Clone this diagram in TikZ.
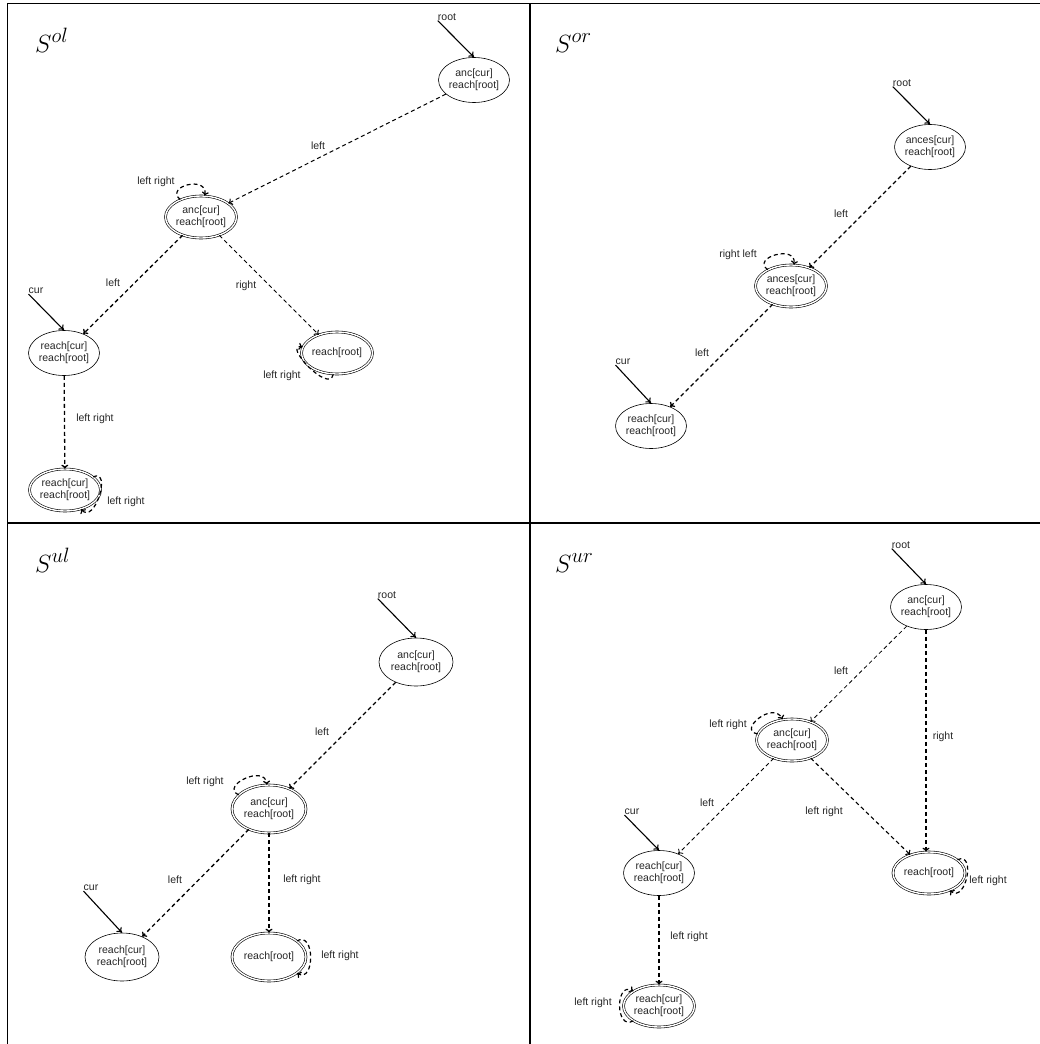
\documentclass[tikz,border=0pt]{standalone}
\usepackage{fontspec}
\setmainfont{Liberation Sans}
\usetikzlibrary{arrows.meta,shapes.geometric}
\newcommand\labfont{\fontsize{10.5}{11.5}\selectfont}
\newcommand\titlefont{\fontsize{28}{30}\selectfont}
\tikzset{
  st/.style={ellipse, draw, line width=0.6, minimum width=70, minimum height=45,
    inner sep=0, align=center, font=\labfont, text=black!85},
  acc/.style={st, double, double distance=1.4, minimum width=67, minimum height=42},
  big/.style={minimum width=74, minimum height=48},
  lbl/.style={font=\labfont, text=black!85, inner sep=0},
  ttl/.style={font=\titlefont, anchor=base west, inner sep=0},
  tr/.style={dash pattern=on 4 off 3, line width=1.3, -{To[length=4,width=7]}},
  thintr/.style={tr, line width=0.8},
  selfloop/.style={tr, line width=1.2},
  init/.style={line width=1.1, -{To[length=5,width=7]}},
  frame/.style={line width=1.3}
}
% self loop on node #1 leaving at angle #2 and returning at angle #3
\newcommand\selfedge[3]{%
  \draw[selfloop] (#1.#2) .. controls +(#2:21) and +(#3:21) .. (#1.#3);}
\begin{document}
\begin{tikzpicture}[x=1pt,y=1pt]
\useasboundingbox (0,0) rectangle (1040,-1044);
% frame and dividers
\draw[frame] (1040,-3.5) -- (7.5,-3.5) -- (7.5,-1044);
\draw[frame] (530,-3.5) -- (530,-1044);
\draw[frame] (7.5,-523) -- (1040,-523);

% ---------------- S^ol ----------------
\node[ttl] (t1) at (35,-52) {$S^{ol}$};
\node[st]  (A1) at (474,-80)  {anc[cur]\\reach[root]};
\node[acc] (B1) at (201,-217) {anc[cur]\\reach[root]};
\node[st]  (C1) at (64,-353)  {reach[cur]\\reach[root]};
\node[acc] (D1) at (337,-353) {reach[root]};
\node[acc] (E1) at (65,-490)  {reach[cur]\\reach[root]};
\node[lbl] (r1) at (447,-17) {root};
\node[lbl] (c1) at (36,-291) {cur};
\draw[init] (r1.south west) -- (A1.north);
\draw[init] (c1.south west) -- (C1.north);
\draw[tr, line width=1] (A1) -- (B1);
\draw[tr] (B1) -- (C1);
\draw[tr, line width=1] (B1) -- (D1);
\draw[tr] (C1) -- (E1);
\selfedge{B1}{140}{80}
\selfedge{D1}{-100}{170}
\selfedge{E1}{25}{-50}
\node[lbl] (l11) at (318,-146) {left};
\node[lbl] (l12) at (156,-182) {left right};
\node[lbl] (l13) at (113,-283) {left};
\node[lbl] (l14) at (246,-286) {right};
\node[lbl] (l15) at (282,-376) {left right};
\node[lbl] (l16) at (95,-419)  {left right};
\node[lbl] (l17) at (126,-502) {left right};

% ---------------- S^or ----------------
\node[ttl] (t2) at (555,-52) {$S^{or}$};
\node[st]  (A2) at (930,-147) {ances[cur]\\reach[root]};
\node[acc] (B2) at (791,-286) {ances[cur]\\reach[root]};
\node[st]  (C2) at (651,-426) {reach[cur]\\reach[root]};
\node[lbl] (r2) at (902,-83)  {root};
\node[lbl] (c2) at (623,-362) {cur};
\draw[init] (r2.south west) -- (A2.north);
\draw[init] (c2.south west) -- (C2.north);
\draw[tr] (A2) -- (B2);
\draw[tr] (B2) -- (C2);
\selfedge{B2}{145}{82}
\node[lbl] (l21) at (841,-214) {left};
\node[lbl] (l22) at (738,-255) {right left};
\node[lbl] (l23) at (702,-353) {left};

% ---------------- S^ul ----------------
\node[ttl] (t3) at (35,-572) {$S^{ul}$};
\node[st,big]  (A3) at (416,-662) {anc[cur]\\reach[root]};
\node[acc,big] (B3) at (269,-809) {anc[cur]\\reach[root]};
\node[st,big]  (C3) at (122,-957) {reach[cur]\\reach[root]};
\node[acc,big] (D3) at (269,-957) {reach[root]};
\node[lbl] (r3) at (387,-595) {root};
\node[lbl] (c3) at (91,-888)  {cur};
\draw[init] (r3.south west) -- (A3.north);
\draw[init] (c3.south west) -- (C3.north);
\draw[tr] (A3) -- (B3);
\draw[tr] (B3) -- (C3);
\draw[tr] (B3) -- (D3);
\selfedge{B3}{155}{95}
\selfedge{D3}{30}{-30}
\node[lbl] (l31) at (322,-732) {left};
\node[lbl] (l32) at (205,-782) {left right};
\node[lbl] (l33) at (175,-880) {left};
\node[lbl] (l34) at (302,-880) {left right};
\node[lbl] (l35) at (340,-956) {left right};

% ---------------- S^ur ----------------
\node[ttl] (t4) at (555,-572) {$S^{ur}$};
\node[st]  (A4) at (926,-607) {anc[cur]\\reach[root]};
\node[acc] (B4) at (792,-740) {anc[cur]\\reach[root]};
\node[st]  (C4) at (659,-873) {reach[cur]\\reach[root]};
\node[acc,minimum width=72] (D4) at (929,-873) {reach[root]};
\node[acc] (E4) at (659,-1006) {reach[cur]\\reach[root]};
\node[lbl] (r4) at (901,-545) {root};
\node[lbl] (c4) at (632,-812) {cur};
\draw[init] (r4.south west) -- (A4.north);
\draw[init] (c4.south west) -- (C4.north);
\draw[thintr] (A4) -- (B4);
\draw[tr] (A4.south) -- (A4.south |- D4.north);
\draw[thintr] (B4) -- (C4);
\draw[tr, line width=1.1] (B4) -- (D4);
\draw[tr] (C4) -- (E4);
\selfedge{B4}{170}{115}
\selfedge{D4}{25}{-40}
\selfedge{E4}{-150}{150}
\node[lbl] (l41) at (841,-671) {left};
\node[lbl] (l42) at (728,-725) {left right};
\node[lbl] (l43) at (943,-737) {right};
\node[lbl] (l44) at (707,-803) {left};
\node[lbl] (l45) at (824,-812) {left right};
\node[lbl] (l46) at (988,-881) {left right};
\node[lbl] (l47) at (689,-937) {left right};
\node[lbl] (l48) at (593,-1003) {left right};
\end{tikzpicture}
\end{document}
